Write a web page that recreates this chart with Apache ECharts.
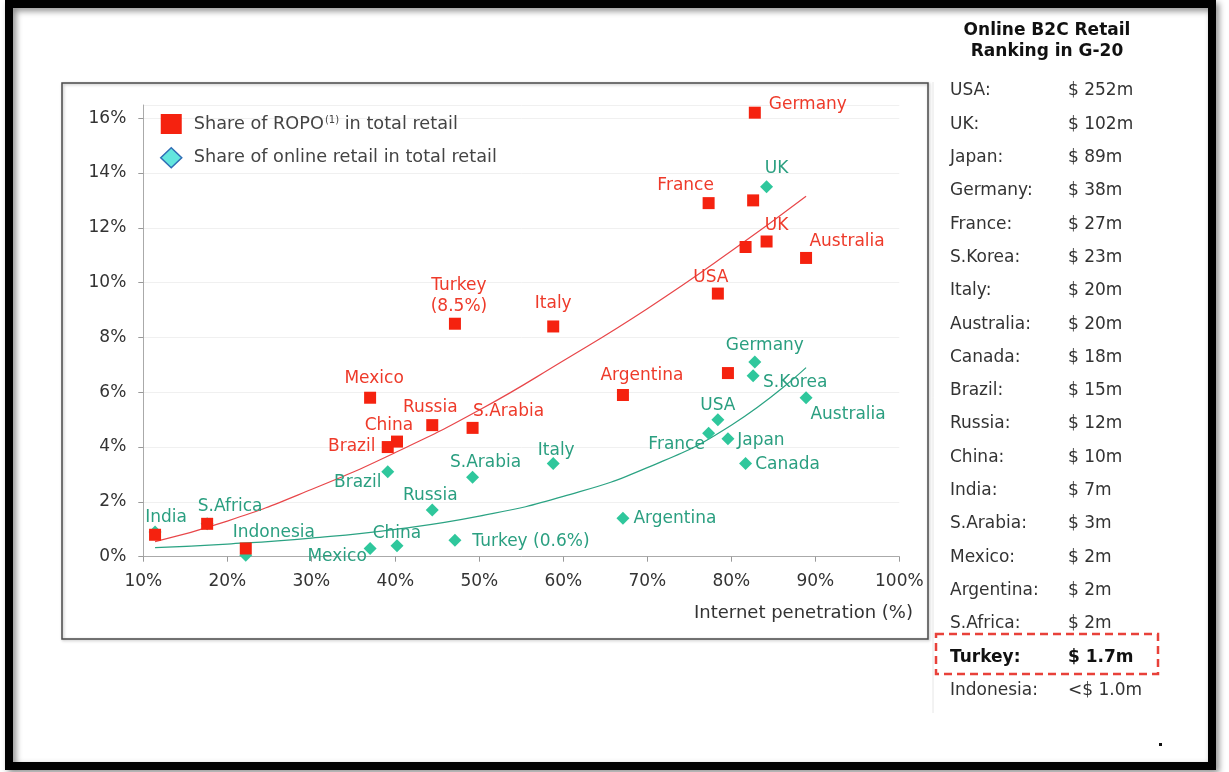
<!DOCTYPE html>
<html>
<head>
<meta charset="utf-8">
<script src="https://cdn.jsdelivr.net/npm/echarts@6/dist/echarts.min.js"></script>
<style>
  html, body { margin: 0; padding: 0; background: #fff; }
  #chart { width: 1229px; height: 772px; }
</style>
</head>
<body>
<div id="chart"></div>
<script>
// G-20 countries: internet penetration vs. ROPO share and online retail share (in %)
const countries   = ['USA', 'UK', 'Japan', 'Germany', 'France', 'S.Korea', 'Italy', 'Australia', 'Canada', 'Brazil',
                     'Russia', 'China', 'India', 'S.Arabia', 'Mexico', 'Argentina', 'S.Africa', 'Turkey', 'Indonesia'];
const penetration = [78.4, 84.2, 79.6, 82.8, 77.3, 82.6, 58.8, 88.9, 81.7, 39.1,
                     44.4, 40.2, 11.4, 49.2, 37.0, 67.1, 17.6, 47.1, 22.2];
const ropoShare   = [9.6, 11.5, 6.7, 16.2, 12.9, 13.0, 8.4, 10.9, 11.3, 4.0,
                     4.8, 4.2, 0.8, 4.7, 5.8, 5.9, 1.2, 8.5, 0.3];
const onlineShare = [5.0, 13.5, 4.3, 7.1, 4.5, 6.6, 3.4, 5.8, 3.4, 3.1,
                     1.7, 0.4, 0.9, 2.9, 0.3, 1.4, 1.2, 0.6, 0.05];

// Trend curves through each cloud
const trendX      = [11.4, 20, 30, 40, 50, 60, 70, 80, 88.9];
const ropoTrend   = [0.55, 1.3, 2.45, 3.8, 5.35, 7.15, 9.05, 11.15, 13.15];
const onlineTrend = [0.33, 0.46, 0.68, 1.0, 1.48, 2.2, 3.25, 4.8, 6.9];

// Axis ticks
const xTicks = [10, 20, 30, 40, 50, 60, 70, 80, 90, 100];
const yTicks = [0, 2, 4, 6, 8, 10, 12, 14, 16];

// Online B2C retail ranking in G-20
const rankCountries = ['USA', 'UK', 'Japan', 'Germany', 'France', 'S.Korea', 'Italy', 'Australia', 'Canada', 'Brazil',
                       'Russia', 'China', 'India', 'S.Arabia', 'Mexico', 'Argentina', 'S.Africa', 'Turkey', 'Indonesia'];
const rankValues    = ['$ 252m', '$ 102m', '$ 89m', '$ 38m', '$ 27m', '$ 23m', '$ 20m', '$ 20m', '$ 18m', '$ 15m',
                       '$ 12m', '$ 10m', '$ 7m', '$ 3m', '$ 2m', '$ 2m', '$ 2m', '$ 1.7m', '<$ 1.0m'];
const highlighted = 'Turkey';

// Label placement (offset of the label centre from the marker centre, px)
const ropoLabelOffset = {
  Germany: [53, -8], France: [-23, -18], UK: [10, -16], Australia: [41, -16], USA: [-7, -16],
  Italy: [0, -23], Turkey: [4, -28], Mexico: [4, -19], Russia: [-2, -18], 'S.Arabia': [36, -16],
  China: [-8, -16], Brazil: [-36, 0], Argentina: [19, -19]
};
const onlineLabelOffset = {
  UK: [10, -18], Germany: [10, -17], 'S.Korea': [42, 7], Australia: [42, 17], USA: [0, -14],
  France: [-32, 11], Japan: [33, 2], Canada: [42, 1], Italy: [3, -13], 'S.Arabia': [13, -15],
  Brazil: [-30, 11], Russia: [-2, -15], Argentina: [52, 0], Turkey: [76, 1], Mexico: [-33, 8],
  China: [0, -12], Indonesia: [28, -23], India: [11, -14], 'S.Africa': [23, -17]
};

const FONT = 'DejaVu Sans';
const RED = '#f5220f', RED_TEXT = '#ee3a2a';
const GREEN = '#2fc79c', GREEN_TEXT = '#2a9f80';

function pointData(values, offsets, color, textFor) {
  return countries.map((c, i) => {
    const off = offsets[c];
    return {
      name: c,
      value: [penetration[i], values[i]],
      label: off ? {
        show: true, position: 'inside', offset: off,
        formatter: textFor(c, values[i]),
        color: color, fontFamily: FONT, fontSize: 17, lineHeight: 21
      } : { show: false }
    };
  });
}

const ropoData = pointData(ropoShare, ropoLabelOffset, RED_TEXT,
  (c, v) => c === 'Turkey' ? 'Turkey\n(' + v + '%)' : c);
const onlineData = pointData(onlineShare, onlineLabelOffset, GREEN_TEXT,
  (c, v) => c === 'Turkey' ? 'Turkey (' + v + '%)' : c);

const ROPO_NAME = 'Share of ROPO in total retail';
const ONLINE_NAME = 'Share of online retail in total retail';

// Side table + frames
const graphics = [
  { type: 'rect', z: 0, silent: true,
    shape: { x: 9, y: 4, width: 1203, height: 762 },
    style: { fill: 'none', stroke: '#000', lineWidth: 8,
             shadowBlur: 6, shadowColor: 'rgba(0,0,0,0.45)', shadowOffsetX: 3, shadowOffsetY: 3 } },
  { type: 'rect', z: 0, silent: true,
    shape: { x: 62, y: 83, width: 866, height: 556 },
    style: { fill: 'none', stroke: '#4a4a4a', lineWidth: 1.5,
             shadowBlur: 3, shadowColor: 'rgba(0,0,0,0.3)', shadowOffsetX: 1, shadowOffsetY: 1 } },
  { type: 'line', z: 0, silent: true,
    shape: { x1: 933, y1: 82, x2: 933, y2: 713 },
    style: { stroke: '#e6e6e6', lineWidth: 1 } },
  { type: 'text', z: 5, silent: true, x: 1047, y: 31,
    style: { text: 'Online B2C Retail', fill: '#111', font: 'bold 17px "DejaVu Sans"',
             textAlign: 'center', textVerticalAlign: 'middle' } },
  { type: 'text', z: 5, silent: true, x: 1047, y: 52,
    style: { text: 'Ranking in G-20', fill: '#111', font: 'bold 17px "DejaVu Sans"',
             textAlign: 'center', textVerticalAlign: 'middle' } },
  { type: 'text', z: 5, silent: true, x: 913, y: 613,
    style: { text: 'Internet penetration (%)', fill: '#333', font: '18px "DejaVu Sans"',
             textAlign: 'right', textVerticalAlign: 'middle' } },
  { type: 'rect', z: 5, silent: true,
    shape: { x: 936, y: 634, width: 222, height: 40 },
    style: { fill: 'none', stroke: '#e8413a', lineWidth: 2.5, lineDash: [8, 5] } },
  { type: 'rect', z: 5, silent: true,
    shape: { x: 1159, y: 743, width: 3, height: 3 },
    style: { fill: '#111' } }
];
rankCountries.forEach((c, i) => {
  const y = 91 + i * 33.3;
  const bold = c === highlighted;
  const font = (bold ? 'bold ' : '') + '17px "DejaVu Sans"';
  const fill = bold ? '#111' : '#333';
  graphics.push({ type: 'text', z: 5, silent: true, x: 950, y: y,
    style: { text: c + ':', fill: fill, font: font, textVerticalAlign: 'middle' } });
  graphics.push({ type: 'text', z: 5, silent: true, x: 1068, y: y,
    style: { text: rankValues[i], fill: fill, font: font, textVerticalAlign: 'middle' } });
});

const chart = echarts.init(document.getElementById('chart'));
chart.setOption({
  animation: false,
  backgroundColor: '#fff',
  textStyle: { fontFamily: FONT },
  grid: { left: 143.3, right: 1229 - 899.3, top: 105, bottom: 772 - 556.7, containLabel: false },
  legend: {
    orient: 'vertical', left: 160, top: 114, itemGap: 13, padding: 0,
    itemWidth: 21, itemHeight: 20, selectedMode: false,
    data: [
      { name: ROPO_NAME, icon: 'rect', itemStyle: { color: RED } },
      { name: ONLINE_NAME, icon: 'diamond',
        itemStyle: { color: '#63e6de', borderColor: '#2f6db5', borderWidth: 1.5 } }
    ],
    formatter: name => name === ROPO_NAME
      ? '{f|Share of ROPO}{s|(1)}{t| in total retail}'
      : '{f|Share of online retail in total retail}',
    textStyle: {
      color: '#444', fontFamily: FONT, fontSize: 17.7,
      rich: {
        f: { color: '#444', fontFamily: FONT, fontSize: 17.7, padding: [0, 0, 0, 7] },
        t: { color: '#444', fontFamily: FONT, fontSize: 17.7 },
        s: { color: '#444', fontFamily: FONT, fontSize: 10, padding: [0, 0, 8, 1] }
      }
    }
  },
  xAxis: {
    type: 'value', min: xTicks[0], max: xTicks[xTicks.length - 1], interval: 10,
    axisLine: { show: true, lineStyle: { color: '#aaa', width: 1 } },
    axisTick: { show: true, inside: false, length: 5, lineStyle: { color: '#999' } },
    axisLabel: { color: '#333', fontSize: 17, fontFamily: FONT, margin: 16,
                 formatter: v => xTicks.includes(v) ? v + '%' : '' },
    splitLine: { show: false }
  },
  yAxis: {
    type: 'value', min: yTicks[0], max: 16.48, interval: 2,
    axisLine: { show: true, lineStyle: { color: '#aaa', width: 1 } },
    axisTick: { show: true, inside: false, length: 5, lineStyle: { color: '#999' } },
    axisLabel: { color: '#333', fontSize: 17, fontFamily: FONT, margin: 17, showMaxLabel: false,
                 formatter: v => yTicks.includes(v) ? v + '%' : '' },
    splitLine: { show: true, lineStyle: { color: '#f0f0f0', width: 1 } }
  },
  series: [
    {
      name: 'online trend', type: 'line', silent: true, symbol: 'none', smooth: true, z: 1,
      data: trendX.map((x, i) => [x, onlineTrend[i]]),
      lineStyle: { color: '#2ba383', width: 1.2 }
    },
    {
      name: 'ropo trend', type: 'line', silent: true, symbol: 'none', smooth: true, z: 1,
      data: trendX.map((x, i) => [x, ropoTrend[i]]),
      lineStyle: { color: '#e8474a', width: 1.2 }
    },
    {
      name: ONLINE_NAME, type: 'scatter', symbol: 'diamond', symbolSize: [13, 13], z: 3,
      itemStyle: { color: GREEN, opacity: 1 },
      data: onlineData
    },
    {
      name: ROPO_NAME, type: 'scatter', symbol: 'rect', symbolSize: 12, z: 4,
      itemStyle: { color: RED, opacity: 1 },
      data: ropoData
    }
  ],
  graphic: graphics
});
</script>
</body>
</html>
